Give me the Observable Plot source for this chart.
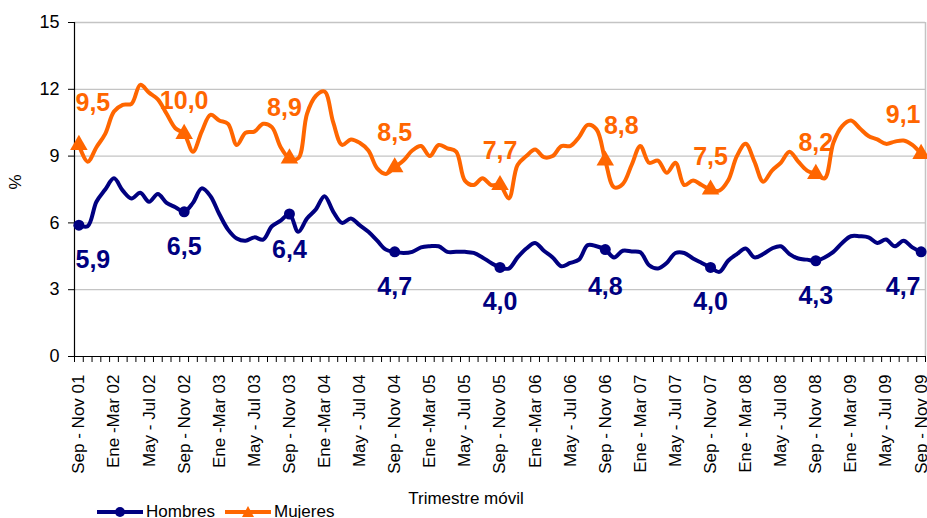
<!DOCTYPE html>
<html><head><meta charset="utf-8">
<script src="https://cdn.jsdelivr.net/npm/d3@7"></script>
<script src="https://cdn.jsdelivr.net/npm/@observablehq/plot@0.6"></script>
<style>
body{margin:0;background:#fff;overflow:hidden;font-family:Arial,"Liberation Sans",sans-serif}
#wrap{position:relative;width:927px;height:518px}
#legend{position:absolute;left:97px;top:502px;display:flex;align-items:center;font-size:17px;color:#000}
#legend span{margin-right:10px}
</style></head><body><div id="wrap"><div id="chart"></div><div id="legend"></div></div>
<script>
const tickLabels = ["Sep - Nov 01","Ene -Mar 02","May - Jul 02","Sep - Nov 02","Ene -Mar 03","May - Jul 03","Sep - Nov 03","Ene -Mar 04","May - Jul 04","Sep - Nov 04","Ene -Mar 05","May - Jul 05","Sep - Nov 05","Ene -Mar 06","May - Jul 06","Sep - Nov 06","Ene - Mar 07","May - Jul 07","Sep - Nov 07","Ene - Mar 08","May - Jul 08","Sep - Nov 08","Ene - Mar 09","May - Jul 09","Sep - Nov 09"];

const hombres = [5.9,5.85,6.95,7.5,8.0,7.45,7.1,7.35,6.95,7.3,6.9,6.7,6.5,6.9,7.55,7.2,6.4,5.7,5.3,5.2,5.35,5.25,5.85,6.1,6.4,5.6,6.2,6.6,7.2,6.5,6.0,6.2,5.9,5.6,5.2,4.8,4.7,4.65,4.7,4.9,4.95,4.95,4.7,4.7,4.7,4.65,4.45,4.2,4.0,3.95,4.45,4.85,5.1,4.75,4.45,4.05,4.2,4.35,5.0,4.95,4.8,4.45,4.75,4.72,4.68,4.1,3.95,4.2,4.65,4.65,4.4,4.2,4.0,3.8,4.3,4.6,4.85,4.45,4.6,4.85,4.95,4.6,4.4,4.35,4.3,4.45,4.7,5.1,5.4,5.4,5.35,5.1,5.25,4.95,5.2,4.9,4.7];

const mujeres = [9.5,8.75,9.4,10.0,11.0,11.3,11.35,12.2,11.85,11.55,10.9,10.25,10.0,9.2,10.1,10.85,10.6,10.45,9.5,10.05,10.1,10.45,10.3,9.4,8.9,8.9,10.9,11.7,11.9,10.5,9.5,9.75,9.6,9.25,8.45,8.2,8.5,8.8,9.25,9.45,9.0,9.5,9.35,9.2,7.9,7.7,8.0,7.7,7.7,7.1,8.6,9.0,9.3,8.95,9.0,9.45,9.45,9.85,10.4,10.2,8.8,7.6,7.75,8.6,9.45,8.7,8.8,8.25,8.7,7.7,7.9,7.7,7.5,7.45,7.9,9.0,9.55,8.75,7.85,8.35,8.7,9.2,8.75,8.35,8.2,8.0,9.6,10.35,10.6,10.25,9.9,9.75,9.55,9.65,9.7,9.5,9.1];

const markerIdx = [0,12,24,36,48,60,72,84,96];

// label layout (pixel nudges)
const hDx = [14,0,0,0,0,0,0,0,-18];
const hDy = [35,35,36,35,35,37,35,35,35];
const mDx = [14,0,-5,0,0,16,0,0,-18];
const mDy = [-42,-33,-50,-34,-34,-35,-33,-31,-39];

const BLUE = "#000080", ORANGE = "#FF6600";
const fmt = v => d3.format(".1f")(v).replace(".", ",");

const hData = hombres.map((v,i)=>({i,v}));
const mData = mujeres.map((v,i)=>({i,v}));
const hMark = markerIdx.map((i,k)=>({i,v:hombres[i],k}));
const mMark = markerIdx.map((i,k)=>({i,v:mujeres[i],k}));

const labelIdx = tickLabels.map((_,k)=>k*4);
const boundaries = d3.range(hombres.length+1).map(i=>i-0.5);

const hLabels = hMark.map((d,k)=>Plot.text([d], {x: "i", y: "v", text: d => fmt(d.v), dx: hDx[k], dy: hDy[k], fill: BLUE, fontSize: 25, fontWeight: "bold"}));
const mLabels = mMark.map((d,k)=>Plot.text([d], {x: "i", y: "v", text: d => fmt(d.v), dx: mDx[k], dy: mDy[k], fill: ORANGE, fontSize: 25, fontWeight: "bold"}));

const chart = Plot.plot({
  width: 927, height: 518,
  marginLeft: 74, marginRight: 2, marginTop: 22, marginBottom: 162,
  style: {fontFamily: "Arial, 'Liberation Sans', sans-serif", background: "#fff", color: "#000", overflow: "visible"},
  x: {type: "linear", domain: [-0.5, hombres.length - 0.5]},
  y: {domain: [0, 15]},
  marks: [
    Plot.gridY([3,6,9,12,15], {stroke: "#c4c4c4", strokeOpacity: 1, strokeWidth: 1.3}),
    Plot.ruleX([hombres.length - 0.5], {stroke: "#c4c4c4", strokeWidth: 1.5}),
    Plot.axisY({ticks: [0,3,6,9,12,15], tickSize: 6, tickPadding: 9, fontSize: 18, label: null, stroke: "#000"}),
    Plot.axisX({ticks: boundaries, tickFormat: () => "", tickSize: 6, label: null}),
    Plot.axisX({ticks: labelIdx, tickFormat: i => tickLabels[Math.round(i/4)], tickSize: 0, tickPadding: 18, tickRotate: -90, fontSize: 17, label: null}),
    Plot.text(["%"], {frameAnchor: "left", dx: -59, dy: 0, rotate: -90, fontSize: 17, fill: "#000"}),
    Plot.text(["Trimestre móvil"], {frameAnchor: "bottom", dx: -34, dy: 147, fontSize: 17, fill: "#000"}),
    Plot.ruleY([0], {stroke: "#000", strokeWidth: 1.2}),
    Plot.ruleX([-0.5], {stroke: "#000", strokeWidth: 1.2}),
    Plot.line(mData, {x: "i", y: "v", stroke: ORANGE, strokeWidth: 4, curve: "catmull-rom"}),
    Plot.line(hData, {x: "i", y: "v", stroke: BLUE, strokeWidth: 4, curve: "catmull-rom"}),
    Plot.dot(hMark, {x: "i", y: "v", r: 5.5, fill: BLUE, stroke: null}),
    Plot.dot(mMark, {x: "i", y: "v", r: 6.5, symbol: "triangle", fill: ORANGE, stroke: null}),
    ...hLabels,
    ...mLabels
  ]
});
document.getElementById("chart").appendChild(chart);

// legend
const leg = document.getElementById("legend");
function item(color, sym, name){
  const s = d3.create("svg").attr("width",46).attr("height",14);
  s.append("line").attr("x1",0).attr("x2",46).attr("y1",7).attr("y2",7).attr("stroke",color).attr("stroke-width",4);
  if (sym==="circle") s.append("circle").attr("cx",23).attr("cy",7).attr("r",5).attr("fill",color);
  else s.append("path").attr("d","M23,1L29,12L17,12Z").attr("fill",color);
  leg.appendChild(s.node());
  const t = document.createElement("span"); t.textContent = name; t.style.marginLeft="3px"; leg.appendChild(t);
}
item(BLUE,"circle","Hombres");
item(ORANGE,"triangle","Mujeres");
</script>
</body></html>
